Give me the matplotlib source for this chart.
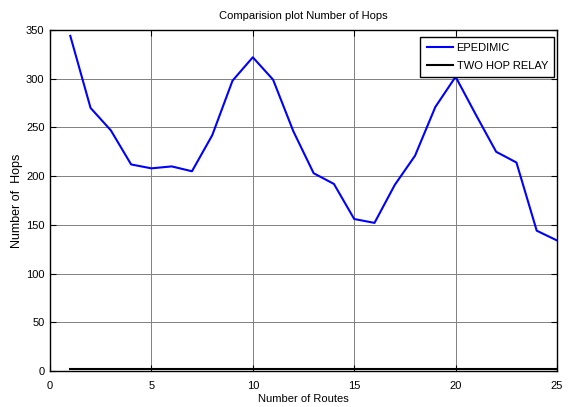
import matplotlib
matplotlib.use("Agg")
import matplotlib.pyplot as plt

routes = list(range(1, 26))
epidemic = [344, 270, 247, 212, 208, 210, 205, 242, 298, 322,
            299, 246, 203, 192, 156, 152, 191, 221, 271, 302,
            263, 225, 214, 144, 134]
two_hop_relay = [2] * 25

x_ticks = [0, 5, 10, 15, 20, 25]
y_ticks = [0, 50, 100, 150, 200, 250, 300, 350]

font = ["Liberation Sans", "DejaVu Sans"]

W, H = 571, 407
L, R, T, B = 50, 557, 30, 371

fig = plt.figure(figsize=(W / 100, H / 100), dpi=100)
ax = fig.add_axes([L / W, 1 - B / H, (R - L) / W, (B - T) / H])

ax.plot(routes, epidemic, color="#0000ff", lw=1.5, label="EPEDIMIC")
ax.plot(routes, two_hop_relay, color="black", lw=1.5, label="TWO HOP RELAY")

ax.set_xlim(0, 25)
ax.set_ylim(0, 350)
ax.set_xticks(x_ticks)
ax.set_yticks(y_ticks)
ax.grid(True, color="#808080", lw=0.7)
ax.tick_params(direction="in", length=4, width=0.8, labelsize=8,
               top=True, right=True)
ax.tick_params(axis="x", pad=7)
ax.tick_params(axis="y", pad=4)
for lbl in ax.get_xticklabels() + ax.get_yticklabels():
    lbl.set_fontfamily(font)
for s in ax.spines.values():
    s.set_linewidth(1.0)

ax.set_title("Comparision plot Number of Hops", fontsize=8, family=font, pad=8)
ax.set_xlabel("Number of Routes", fontsize=8, family=font)
ax.xaxis.set_label_coords(0.5, (B - 394) / (B - T))
ax.set_ylabel("Number of  Hops", fontsize=9, family=font)
ax.yaxis.set_label_coords((23 - L) / (R - L), 0.5)

leg = ax.legend(loc="upper right", prop={"family": font, "size": 8},
                bbox_to_anchor=((554 - L) / (R - L), 1 - 7 / (B - T)),
                borderaxespad=0, fancybox=False, framealpha=1,
                edgecolor="black", handlelength=2.4, handletextpad=0.3,
                borderpad=0.55, labelspacing=0.7)
leg.get_frame().set_linewidth(1.0)

fig.savefig("out.png", dpi=100)
